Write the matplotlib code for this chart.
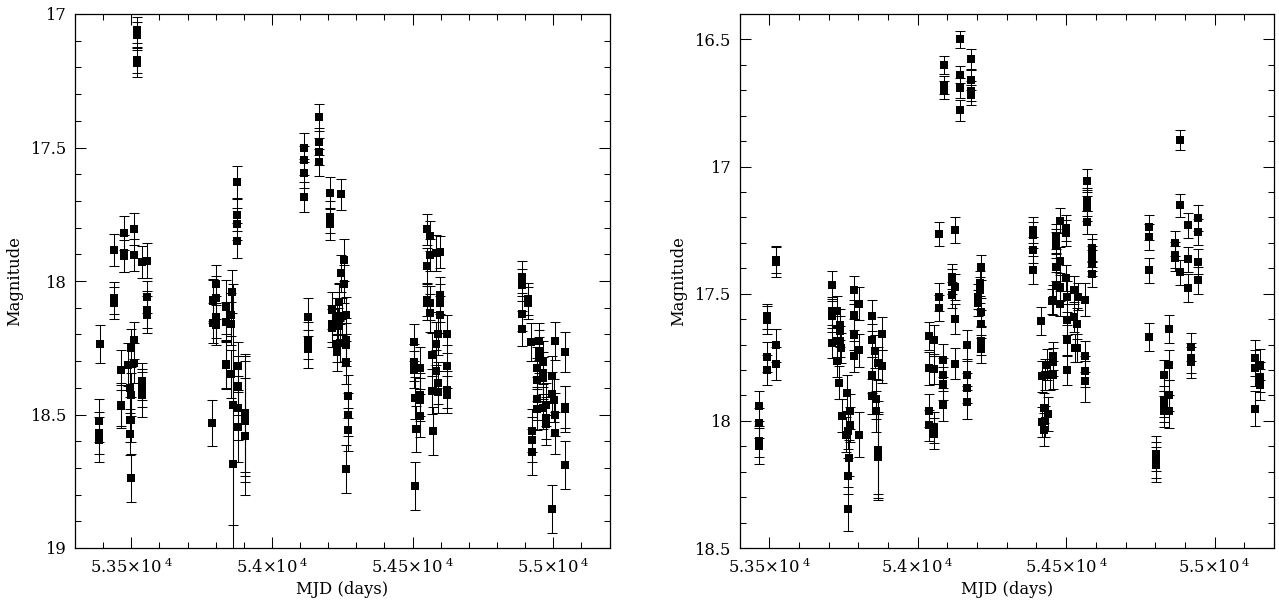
import matplotlib
matplotlib.use("Agg")
import matplotlib.pyplot as plt
from matplotlib.ticker import MultipleLocator

# rows are (MJD, magnitude, error), one list per observing season
left_s1 = [
    (53437, 17.885, .06), (53473, 17.82, .065), (53473, 17.896, .07), (53473, 17.906, .06),
    (53508, 17.806, .06), (53508, 17.904, .06), (53520, 17.06, .05), (53520, 17.079, .05),
    (53520, 17.172, .05), (53520, 17.185, .05), (53539, 17.928, .06), (53556, 17.924, .065),
    (53556, 18.059, .06), (53556, 18.107, .07), (53556, 18.126, .07), (53437, 18.065, .06),
    (53437, 18.082, .06), (53389, 18.236, .07), (53387, 18.523, .08), (53387, 18.569, .08),
    (53387, 18.594, .085), (53463, 18.332, .075), (53463, 18.463, .08), (53463, 18.469, .08),
    (53488, 18.313, .08), (53494, 18.401, .08), (53500, 18.426, .08), (53494, 18.519, .085),
    (53500, 18.519, .085), (53494, 18.573, .08), (53500, 18.738, .09), (53500, 18.251, .07),
    (53508, 18.222, .07), (53508, 18.307, .075), (53539, 18.376, .07), (53539, 18.401, .07),
    (53539, 18.426, .085),
]
left_s2 = [
    (53800, 18.011, .07), (53790, 18.071, .08), (53800, 18.062, .08), (53858, 18.04, .08),
    (53876, 17.629, .06), (53876, 17.752, .06), (53876, 17.787, .06), (53876, 17.849, .065),
    (53790, 18.076, .08), (53800, 18.135, .08), (53790, 18.157, .075), (53800, 18.164, .075),
    (53835, 18.097, .1), (53835, 18.155, .075), (53856, 18.126, .08), (53856, 18.16, .08),
    (53835, 18.31, .09), (53835, 18.316, .09), (53856, 18.347, .09), (53879, 18.32, .09),
    (53879, 18.392, .11), (53787, 18.532, .085), (53861, 18.463, .45), (53879, 18.476, .12),
    (53879, 18.547, .13), (53903, 18.494, .22), (53903, 18.507, .225), (53903, 18.526, .225),
    (53903, 18.582, .22), (53861, 18.685, .33),
]
left_s3 = [
    (54114, 17.501, .055), (54114, 17.548, .055), (54114, 17.597, .055), (54114, 17.685, .055),
    (54166, 17.387, .05), (54166, 17.478, .05), (54166, 17.516, .05), (54166, 17.556, .05),
    (54128, 18.135, .07), (54128, 18.223, .07), (54128, 18.254, .07), (54207, 17.669, .06),
    (54207, 17.762, .06), (54207, 17.787, .06), (54245, 17.675, .058), (54257, 17.921, .08),
    (54244, 17.971, .07), (54257, 18.011, .07), (54239, 18.077, .07), (54214, 18.11, .07),
    (54239, 18.08, .07), (54214, 18.16, .07), (54214, 18.176, .07), (54230, 18.132, .07),
    (54248, 18.132, .07), (54265, 18.129, .07), (54230, 18.235, .07), (54230, 18.267, .07),
    (54242, 18.232, .07), (54263, 18.22, .08), (54263, 18.238, .08), (54263, 18.305, .08),
    (54269, 18.432, .08), (54269, 18.501, .08), (54269, 18.557, .08), (54263, 18.703, .09),
    (54236, 18.17, .07),
]
left_s4 = [
    (54553, 17.807, .057), (54563, 17.831, .057), (54563, 17.903, .06), (54553, 17.943, .065),
    (54585, 17.894, .067), (54597, 17.891, .06), (54598, 18.054, .07), (54553, 18.071, .06),
    (54553, 18.082, .065), (54563, 18.082, .065), (54563, 18.12, .07), (54598, 18.082, .07),
    (54598, 18.126, .07), (54589, 18.197, .08), (54583, 18.235, .08), (54570, 18.276, .08),
    (54583, 18.338, .08), (54589, 18.382, .08), (54570, 18.413, .085), (54589, 18.416, .08),
    (54624, 18.199, .07), (54624, 18.32, .08), (54624, 18.407, .07), (54624, 18.426, .07),
    (54571, 18.563, .09), (54506, 18.23, .07), (54506, 18.305, .07), (54506, 18.332, .07),
    (54526, 18.326, .08), (54508, 18.438, .08), (54526, 18.426, .08), (54526, 18.444, .08),
    (54526, 18.504, .08), (54511, 18.554, .085), (54509, 18.768, .09),
]
left_s5 = [
    (54890, 17.984, .06), (54890, 18.015, .06), (54909, 18.069, .06), (54909, 18.082, .06),
    (54890, 18.122, .065), (54890, 18.179, .065), (54922, 18.228, .07), (54949, 18.226, .07),
    (54949, 18.263, .08), (54949, 18.288, .08), (54964, 18.305, .08), (54941, 18.326, .08),
    (54962, 18.345, .08), (54964, 18.363, .08), (54941, 18.37, .08), (54941, 18.441, .08),
    (54941, 18.478, .08), (54964, 18.476, .08), (54976, 18.463, .08), (54994, 18.355, .075),
    (54994, 18.422, .08), (55004, 18.447, .08), (55006, 18.225, .07), (55006, 18.501, .08),
    (55006, 18.569, .08), (54976, 18.513, .08), (54976, 18.534, .08), (54923, 18.561, .08),
    (54923, 18.594, .085), (54923, 18.64, .085), (55041, 18.266, .076), (55041, 18.472, .08),
    (55041, 18.479, .085), (55041, 18.69, .09), (54994, 18.854, .09),
]

right_s1 = [
    (53524, 17.367, .05), (53524, 17.374, .06), (53464, 17.942, .06), (53464, 18.009, .06),
    (53464, 18.081, .06), (53464, 18.1, .07), (53494, 17.589, .05), (53494, 17.602, .055),
    (53494, 17.749, .06), (53494, 17.8, .06), (53524, 17.703, .065), (53524, 17.775, .065),
]
right_s2 = [
    (53710, 17.467, .055), (53787, 17.487, .055), (53710, 17.569, .055), (53710, 17.589, .06),
    (53727, 17.569, .06), (53738, 17.622, .06), (53738, 17.648, .06), (53710, 17.694, .06),
    (53727, 17.687, .06), (53738, 17.687, .06), (53742, 17.714, .06), (53727, 17.766, .06),
    (53736, 17.851, .065), (53761, 17.89, .07), (53744, 17.98, .065), (53772, 17.963, .07),
    (53772, 18.015, .07), (53758, 18.054, .07), (53765, 18.041, .07), (53770, 18.146, .07),
    (53764, 18.218, .07), (53764, 18.347, .085), (53787, 17.583, .06), (53787, 17.661, .06),
    (53803, 17.539, .065), (53803, 17.723, .065), (53787, 17.746, .06), (53803, 18.054, .09),
    (53847, 17.586, .06), (53845, 17.683, .065), (53856, 17.727, .065), (53879, 17.657, .065),
    (53867, 17.773, .065), (53881, 17.786, .065), (53847, 17.82, .07), (53845, 17.904, .07),
    (53858, 17.914, .08), (53858, 17.963, .08), (53867, 18.113, .19), (53867, 18.126, .16),
    (53867, 18.142, .17),
]
right_s3 = [
    (54088, 16.6, .035), (54088, 16.679, .035), (54089, 16.699, .035), (54142, 16.5, .035),
    (54143, 16.638, .035), (54142, 16.691, .04), (54142, 16.779, .04), (54180, 16.578, .04),
    (54180, 16.66, .04), (54180, 16.703, .04), (54180, 16.718, .04), (54072, 17.266, .048),
    (54126, 17.25, .05), (54115, 17.433, .05), (54115, 17.452, .05), (54126, 17.474, .05),
    (54115, 17.505, .05), (54072, 17.513, .055), (54072, 17.556, .05), (54126, 17.6, .06),
    (54126, 17.775, .06), (54038, 17.668, .055), (54056, 17.683, .06), (54084, 17.761, .065),
    (54039, 17.794, .065), (54056, 17.796, .06), (54084, 17.818, .065), (54084, 17.854, .065),
    (54084, 17.936, .065), (54039, 17.96, .065), (54038, 18.018, .06), (54056, 18.026, .06),
    (54056, 18.05, .06), (54165, 17.703, .06), (54165, 17.818, .06), (54165, 17.871, .06),
    (54165, 17.927, .065), (54213, 17.396, .05), (54210, 17.459, .05), (54210, 17.485, .05),
    (54204, 17.511, .05), (54204, 17.537, .05), (54213, 17.573, .055), (54213, 17.619, .055),
    (54213, 17.687, .055), (54213, 17.716, .055),
]
right_s4 = [
    (54390, 17.249, .05), (54390, 17.269, .05), (54390, 17.328, .05), (54390, 17.407, .055),
    (54478, 17.213, .05), (54466, 17.276, .05), (54466, 17.295, .05), (54466, 17.308, .05),
    (54478, 17.371, .055), (54466, 17.394, .055), (54500, 17.242, .05), (54500, 17.262, .05),
    (54500, 17.439, .05), (54466, 17.469, .055), (54478, 17.474, .055), (54528, 17.485, .055),
    (54504, 17.511, .06), (54455, 17.524, .06), (54539, 17.511, .055), (54562, 17.524, .065),
    (54569, 17.056, .045), (54569, 17.131, .045), (54569, 17.144, .05), (54569, 17.164, .05),
    (54569, 17.219, .045), (54588, 17.321, .055), (54588, 17.341, .055), (54588, 17.361, .05),
    (54588, 17.38, .05), (54588, 17.422, .05), (54416, 17.607, .055), (54418, 17.825, .06),
    (54429, 17.818, .06), (54446, 17.818, .06), (54457, 17.818, .055), (54437, 17.779, .06),
    (54455, 17.744, .055), (54457, 17.769, .055), (54424, 17.95, .06), (54440, 17.973, .065),
    (54418, 18.005, .06), (54429, 18.002, .06), (54424, 18.035, .065), (54454, 17.53, .05),
    (54478, 17.539, .05), (54502, 17.602, .06), (54528, 17.592, .06), (54504, 17.683, .06),
    (54538, 17.618, .06), (54504, 17.8, .06), (54530, 17.714, .055), (54538, 17.714, .055),
    (54562, 17.746, .06), (54562, 17.805, .06), (54562, 17.845, .08),
]
right_s5 = [
    (54778, 17.239, .05), (54778, 17.277, .05), (54778, 17.408, .05), (54882, 16.895, .04),
    (54882, 17.152, .045), (54865, 17.302, .05), (54865, 17.348, .05), (54865, 17.361, .05),
    (54882, 17.416, .05), (54909, 17.231, .05), (54909, 17.365, .05), (54909, 17.479, .055),
    (54945, 17.202, .05), (54945, 17.258, .05), (54945, 17.374, .05), (54945, 17.448, .055),
    (54778, 17.67, .055), (54801, 18.129, .07), (54801, 18.153, .07), (54801, 18.172, .07),
    (54828, 17.821, .06), (54848, 17.638, .055), (54848, 17.78, .06), (54848, 17.9, .06),
    (54828, 17.923, .06), (54828, 17.943, .06), (54828, 17.963, .06), (54848, 17.963, .065),
    (54921, 17.71, .055), (54921, 17.753, .06), (54921, 17.77, .06),
]
right_s6 = [
    (55135, 17.753, .07), (55135, 17.792, .07), (55154, 17.779, .06), (55154, 17.828, .06),
    (55154, 17.858, .06), (55135, 17.952, .07),
]

left_seasons = [left_s1, left_s2, left_s3, left_s4, left_s5]
right_seasons = [right_s1, right_s2, right_s3, right_s4, right_s5, right_s6]

x_tick_values = [53500, 54000, 54500, 55000]
x_tick_labels = ["5.35×10$^{\\;4}$", "5.4×10$^{\\;4}$", "5.45×10$^{\\;4}$", "5.5×10$^{\\;4}$"]
left_y_ticks = [17, 17.5, 18, 18.5, 19]
left_y_labels = ["17", "17.5", "18", "18.5", "19"]
right_y_ticks = [16.5, 17, 17.5, 18, 18.5]
right_y_labels = ["16.5", "17", "17.5", "18", "18.5"]

plt.rcParams["font.family"] = "DejaVu Serif"
plt.rcParams["mathtext.fontset"] = "dejavuserif"
plt.rcParams["font.size"] = 11.8

W, H = 1279, 604
fig = plt.figure(figsize=(W / 100, H / 100), dpi=100)


def draw_panel(box, seasons, xlim, ylim, yticks, ylabels, ylabel_x):
    x0, y0, x1, y1 = box
    ax = fig.add_axes([x0 / W, 1 - y1 / H, (x1 - x0) / W, (y1 - y0) / H])
    for season in seasons:
        mjd = [row[0] for row in season]
        mag = [row[1] for row in season]
        err = [row[2] for row in season]
        ax.errorbar(mjd, mag, yerr=err, fmt="none", ecolor="black",
                    elinewidth=0.75, capsize=3.7, capthick=0.75)
        ax.plot(mjd, mag, "s", color="black", ms=5.6, mew=0)
    ax.set_xlim(xlim)
    ax.set_ylim(ylim)
    ax.set_xticks(x_tick_values, x_tick_labels)
    ax.set_yticks(yticks, ylabels)
    ax.xaxis.set_minor_locator(MultipleLocator(100))
    ax.yaxis.set_minor_locator(MultipleLocator(0.1))
    ax.tick_params(which="both", direction="in", top=True, right=True, width=0.75)
    ax.tick_params(which="major", length=8, pad=7)
    ax.tick_params(which="minor", length=4)
    ax.tick_params(axis="y", which="major", pad=6.5)
    for side in ax.spines.values():
        side.set_linewidth(0.9)
    ax.set_xlabel("MJD (days)", labelpad=3)
    ax.set_ylabel("Magnitude")
    ax.yaxis.set_label_coords(ylabel_x, 0.5)
    return ax


draw_panel((75, 14, 609.5, 548), left_seasons, (53300, 55200), (19, 17),
           left_y_ticks, left_y_labels, -0.097)
draw_panel((739.5, 14, 1274, 548), right_seasons, (53400, 55200), (18.5, 16.4),
           right_y_ticks, right_y_labels, -0.097)

fig.savefig("out.png", dpi=100)
